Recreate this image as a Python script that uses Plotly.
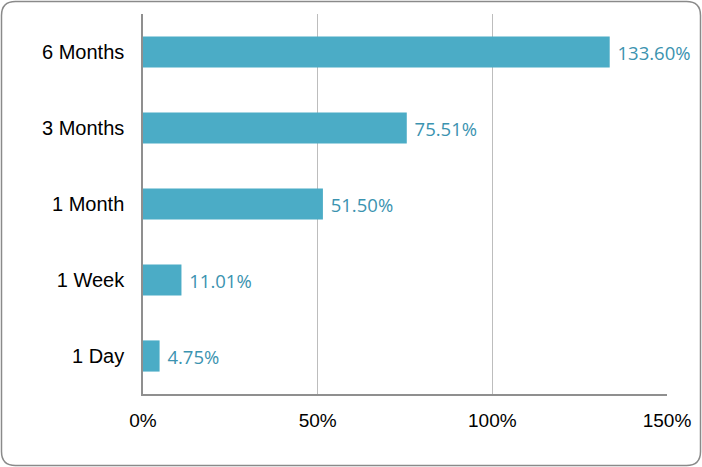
import plotly.graph_objects as go

categories = ["1 Day", "1 Week", "1 Month", "3 Months", "6 Months"]
values = [4.75, 11.01, 51.50, 75.51, 133.60]
tick_vals = [0, 50, 100, 150]
tick_text = ["0%", "50%", "100%", "150%"]

W, H = 702, 467
L, R, T, B = 143, 35, 14, 73
pw, ph = W - L - R, H - T - B

def px(x):
    return (x - L) / pw

def py(y):
    return (H - B - y) / ph

fig = go.Figure(go.Bar(
    y=categories, x=values, orientation="h",
    marker=dict(color="#4bacc6", line=dict(width=0)),
    text=[f" {v:.2f}%" for v in values],
    textposition="outside",
    textfont=dict(family="Open Sans", size=18.5, color="#3b93b0"),
    cliponaxis=False,
    hoverinfo="skip",
))

# rounded border in paper coordinates
x0, x1, y0, y1, r = 1.5, 700.5, 1.5, 465.5, 14
path = (f"M {px(x0+r)},{py(y0)} L {px(x1-r)},{py(y0)} Q {px(x1)},{py(y0)} {px(x1)},{py(y0+r)} "
        f"L {px(x1)},{py(y1-r)} Q {px(x1)},{py(y1)} {px(x1-r)},{py(y1)} "
        f"L {px(x0+r)},{py(y1)} Q {px(x0)},{py(y1)} {px(x0)},{py(y1-r)} "
        f"L {px(x0)},{py(y0+r)} Q {px(x0)},{py(y0)} {px(x0+r)},{py(y0)} Z")

fig.update_layout(
    width=W, height=H,
    margin=dict(l=L, r=R, t=T, b=B),
    paper_bgcolor="white", plot_bgcolor="white",
    bargap=0.59,
    showlegend=False,
    font=dict(family="Liberation Sans, Arial", size=19, color="black"),
    shapes=[dict(type="path", path=path, xref="paper", yref="paper",
                 line=dict(color="#8a8a8a", width=1.5), layer="below")],
    xaxis=dict(range=[0, 150], tickvals=tick_vals, ticktext=tick_text,
               showgrid=True, gridcolor="#bdbdbd", gridwidth=1,
               showline=True, linecolor="#8f8f8f", linewidth=1.5,
               zeroline=False, ticks="", ticklabelstandoff=8, fixedrange=True),
    yaxis=dict(showgrid=False, showline=True, linecolor="#8f8f8f", linewidth=1.5,
               ticks="", ticklabelstandoff=13, tickfont=dict(size=20), fixedrange=True),
)

fig.write_html("out.html", config={"displayModeBar": False},
               post_script="document.body.style.margin='0';document.body.style.overflow='hidden';")
